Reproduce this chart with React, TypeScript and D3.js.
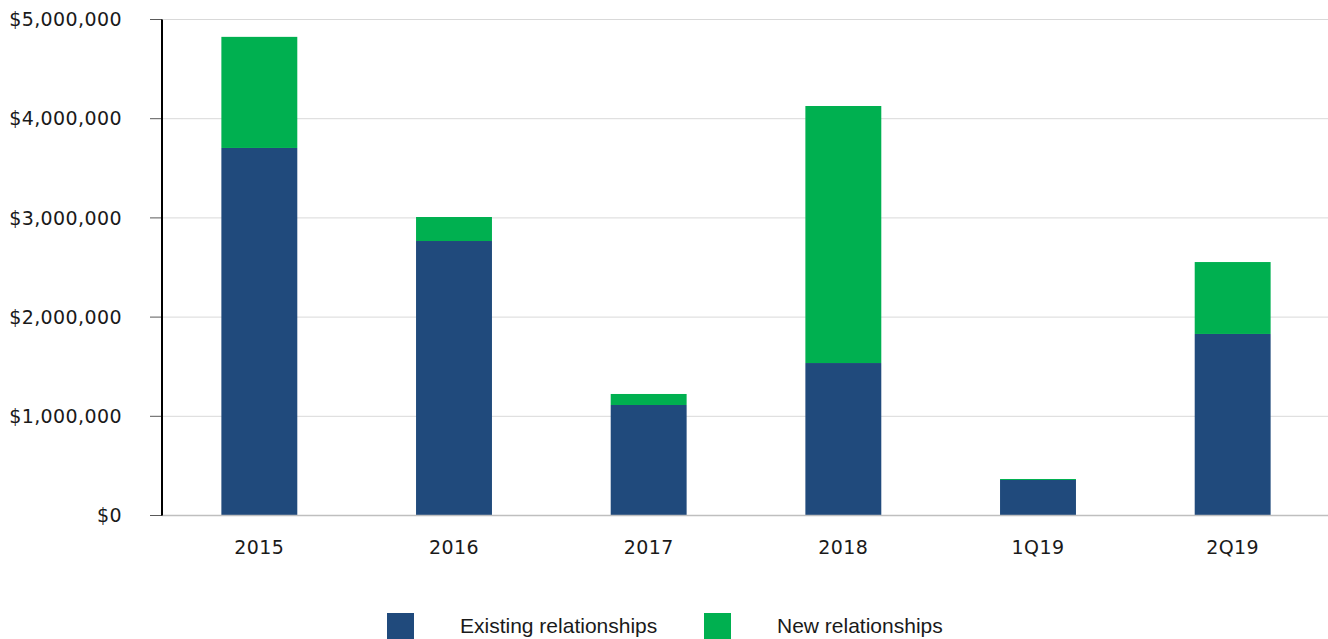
import React from "react";
import * as d3 from "d3";

const categories = ["2015", "2016", "2017", "2018", "1Q19", "2Q19"];
const existingValues = [3705000, 2767000, 1114000, 1537000, 358000, 1830000];
const newValues = [1120000, 242000, 111000, 2591000, 10000, 725000];
const yTicks = [0, 1000000, 2000000, 3000000, 4000000, 5000000];
const seriesNames = ["Existing relationships", "New relationships"];
const seriesColors = ["#204a7c", "#00b050"];

const W = 1328;
const H = 639;
const margin = { left: 162, right: -2, top: 19.5, bottom: 123.5 };

export default function App() {
  const x = d3
    .scaleBand<string>()
    .domain(categories)
    .range([margin.left, W - margin.right])
    .paddingInner(0.61)
    .paddingOuter(0.305);
  const y = d3
    .scaleLinear()
    .domain([0, 5000000])
    .range([H - margin.bottom, margin.top]);
  const fmt = (v: number) => "$" + d3.format(",")(v);

  const stacked = d3
    .stack<number>()
    .keys(["e", "n"])
    .value((i, k) => (k === "e" ? existingValues[i] : newValues[i]))(
    categories.map((_, i) => i)
  );

  const font = "'DejaVu Sans', sans-serif";

  return (
    <svg
      width={W}
      height={H}
      style={{ position: "absolute", left: 0, top: 0, background: "#fff" }}
    >
      {yTicks.map((t) => (
        <g key={t}>
          {t > 0 && (
            <line
              x1={margin.left}
              x2={W}
              y1={y(t)}
              y2={y(t)}
              stroke="#d9d9d9"
              strokeWidth={1}
            />
          )}
          <line
            x1={150}
            x2={margin.left}
            y1={y(t)}
            y2={y(t)}
            stroke="#595959"
            strokeWidth={1}
          />
          <text
            x={122}
            y={y(t)}
            dy="0.35em"
            textAnchor="end"
            fontFamily={font}
            fontSize={19}
            letterSpacing={0.4}
            fill="#1a1a1a"
          >
            {fmt(t)}
          </text>
        </g>
      ))}
      {stacked.map((layer, si) => (
        <g key={si} fill={seriesColors[si]}>
          {layer.map((d, i) => (
            <rect
              key={i}
              x={x(categories[i])}
              width={x.bandwidth()}
              y={y(d[1])}
              height={y(d[0]) - y(d[1])}
            />
          ))}
        </g>
      ))}
      <line
        x1={margin.left}
        x2={W}
        y1={y(0)}
        y2={y(0)}
        stroke="#bfbfbf"
        strokeWidth={1.5}
      />
      <line
        x1={margin.left}
        x2={margin.left}
        y1={y(5000000)}
        y2={y(0)}
        stroke="#000"
        strokeWidth={2}
      />
      {categories.map((c) => (
        <text
          key={c}
          x={(x(c) as number) + x.bandwidth() / 2}
          y={554}
          textAnchor="middle"
          fontFamily={font}
          fontSize={19}
          letterSpacing={0.4}
          fill="#1a1a1a"
        >
          {c}
        </text>
      ))}
      {seriesNames.map((name, i) => {
        const lx = i === 0 ? 387 : 704;
        return (
          <g key={name}>
            <rect x={lx} y={613} width={27} height={27} fill={seriesColors[i]} />
            <text
              x={lx + 73}
              y={633}
              fontFamily="'Liberation Sans', Arial, sans-serif"
              fontSize={21}
              fill="#1a1a1a"
            >
              {name}
            </text>
          </g>
        );
      })}
    </svg>
  );
}
